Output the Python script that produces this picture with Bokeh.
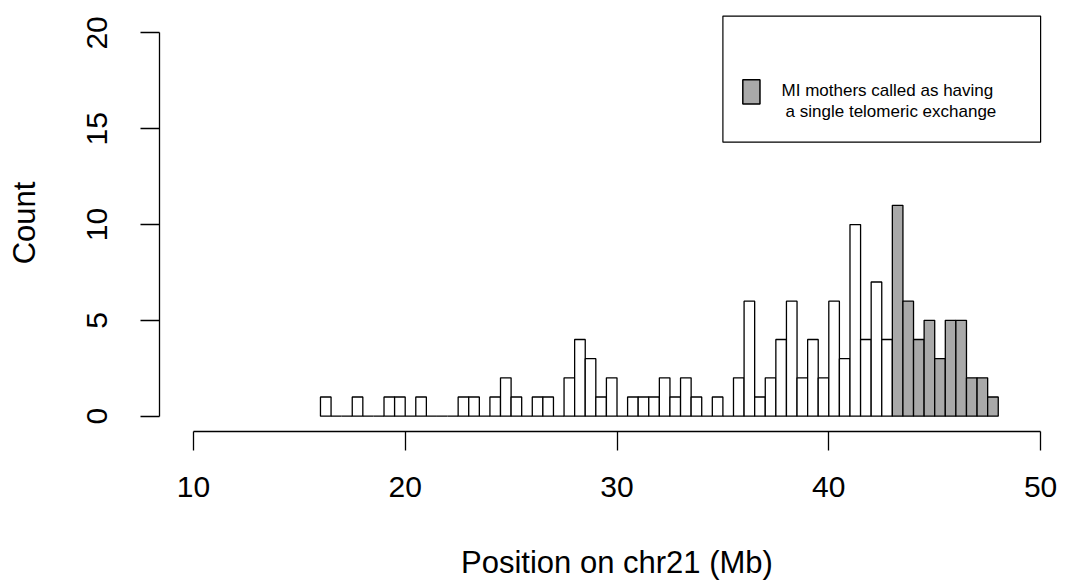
import numpy as np
from bokeh.plotting import figure
from bokeh.models import FixedTicker, Range1d, BoxAnnotation, Label, ColumnDataSource
from bokeh.embed import file_html
from bokeh.resources import INLINE

# ---- data (histogram, 0.5 Mb bins starting at 16 Mb) ----
bin_start = 16.0
bin_width = 0.5
# counts for bins 16.0 .. 43.0 (white bars)
counts_other = [1, 0, 0, 1, 0, 0, 1, 1, 0, 1, 0, 0, 0, 1, 1, 0, 1, 2, 1, 0,
                1, 1, 0, 2, 4, 3, 1, 2, 0, 1, 1, 1, 2, 1, 2, 1, 0, 1, 0, 2,
                6, 1, 2, 4, 6, 2, 4, 2, 6, 3, 10, 4, 7, 4]
# counts for bins 43.0 .. 48.0 (grey bars: single telomeric exchange)
counts_telomeric = [11, 6, 4, 5, 3, 5, 5, 2, 2, 1]

x_ticks = [10, 20, 30, 40, 50]
y_ticks = [0, 5, 10, 15, 20]
legend_lines = ["MI mothers called as having", "a single telomeric exchange"]

FONT = "Liberation Sans"

n_other = len(counts_other)
left_o = bin_start + bin_width * np.arange(n_other)
left_t = bin_start + bin_width * (n_other + np.arange(len(counts_telomeric)))

src_o = ColumnDataSource(dict(left=left_o, right=left_o + bin_width,
                              top=counts_other, bottom=[0] * n_other))
src_t = ColumnDataSource(dict(left=left_t, right=left_t + bin_width,
                              top=counts_telomeric, bottom=[0] * len(counts_telomeric)))

p = figure(width=1074, height=583, output_backend="svg", toolbar_location=None,
           x_range=Range1d(8.4, 51.6), y_range=Range1d(-0.8, 20.96),
           min_border_left=159, min_border_right=0, min_border_top=14,
           min_border_bottom=152)
p.outline_line_color = None
p.xgrid.visible = False
p.ygrid.visible = False
p.background_fill_color = "white"
p.border_fill_color = "white"

p.quad(left="left", right="right", top="top", bottom="bottom", source=src_o,
       fill_color="white", line_color="black", line_width=1.3)
p.quad(left="left", right="right", top="top", bottom="bottom", source=src_t,
       fill_color="#A9A9A9", line_color="black", line_width=1.3)

# x axis
xa = p.xaxis[0]
xa.ticker = FixedTicker(ticks=x_ticks)
xa.bounds = (10, 50)
xa.axis_label = "Position on chr21 (Mb)"
xa.axis_label_text_font = FONT
xa.axis_label_text_font_size = "31px"
xa.axis_label_text_font_style = "normal"
xa.axis_label_text_color = "black"
xa.axis_label_standoff = 45
xa.major_label_text_font = FONT
xa.major_label_text_font_size = "30px"
xa.major_label_text_color = "black"
xa.major_label_standoff = 26
xa.major_tick_out = 19
xa.major_tick_in = 0
xa.minor_tick_out = 0
xa.minor_tick_in = 0
xa.axis_line_color = "black"
xa.axis_line_width = 1.3
xa.major_tick_line_width = 1.3

# y axis
ya = p.yaxis[0]
ya.ticker = FixedTicker(ticks=y_ticks)
ya.bounds = (0, 20)
ya.axis_label = "Count"
ya.axis_label_text_font = FONT
ya.axis_label_text_font_size = "31px"
ya.axis_label_text_font_style = "normal"
ya.axis_label_text_color = "black"
ya.axis_label_standoff = 43
ya.major_label_text_font = FONT
ya.major_label_text_font_size = "30px"
ya.major_label_text_color = "black"
ya.major_label_orientation = "vertical"
ya.major_label_standoff = 33
ya.major_tick_out = 19
ya.major_tick_in = 0
ya.minor_tick_out = 0
ya.minor_tick_in = 0
ya.axis_line_color = "black"
ya.axis_line_width = 1.3
ya.major_tick_line_width = 1.3

# legend box (R-style)
p.add_layout(BoxAnnotation(left=35.0, right=50.0, top=20.88, bottom=14.3,
                           fill_color="white", fill_alpha=1.0,
                           line_color="black", line_width=1.2, line_alpha=1.0))
p.add_layout(BoxAnnotation(left=35.94, right=36.75, top=17.55, bottom=16.29,
                           fill_color="#A9A9A9", fill_alpha=1.0,
                           line_color="black", line_width=1.5, line_alpha=1.0))
p.add_layout(Label(x=37.77, y=17.02, text=legend_lines[0], text_font=FONT,
                   text_font_size="17px", text_color="black",
                   text_baseline="alphabetic"))
p.add_layout(Label(x=37.96, y=15.89, text=legend_lines[1], text_font=FONT,
                   text_font_size="17px", text_color="black",
                   text_baseline="alphabetic"))

open("out.html", "w").write(file_html(p, INLINE))
